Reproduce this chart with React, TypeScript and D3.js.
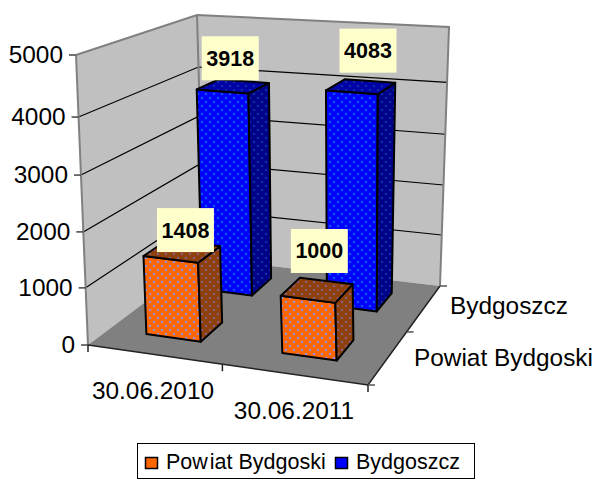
import React from "react";
import * as d3 from "d3";

const categories = ["30.06.2010", "30.06.2011"];
const seriesNames = ["Powiat Bydgoski", "Bydgoszcz"];
const powiatValues = [1408, 1000];
const bydgoszczValues = [3918, 4083];
const valueTicks = [0, 1000, 2000, 3000, 4000, 5000];

const W = 594, H = 482;
type P = [number, number];
// frame corners: [category u][depth v][height]
const corners = {
  flb: [88, 345] as P, flt: [76, 55] as P,
  blb: [204, 258] as P, blt: [197, 15] as P,
  brb: [440, 286] as P, brt: [449, 27] as P,
  frb: [368, 385] as P, frt: [358, 82] as P,
};
const hScale = d3.scaleLinear().domain(valueTicks).range([0, 0.197, 0.39, 0.586, 0.786, 1]);
const uBand = d3.scaleBand<string>().domain(categories).range([-0.014, 0.986]).paddingInner(0.6).paddingOuter(0.3);
const vBand = d3.scaleBand<string>().domain(seriesNames).range([0, 1.02]).paddingInner(0.6).paddingOuter(0.3);
const vWarp = d3.scalePow().exponent(0.9).domain([0, 1]).range([0, 1]);
const lerp = (a: P, b: P, t: number): P => [a[0] + (b[0] - a[0]) * t, a[1] + (b[1] - a[1]) * t];
function proj(u: number, vRaw: number, val: number): P {
  const h = hScale(val);
  const v = vWarp(vRaw);
  const { flb, flt, blb, blt, brb, brt, frb, frt } = corners;
  const fl = lerp(flb, flt, h), bl = lerp(blb, blt, h), br = lerp(brb, brt, h), fr = lerp(frb, frt, h);
  return lerp(lerp(fl, bl, v), lerp(fr, br, v), u);
}
const poly = (pts: P[]) => (d3.line()(pts) as string) + "Z";
const fonts = "'Liberation Sans', Arial, sans-serif";

const labelOffset: Record<string, P> = {
  "0-0": [3, -21], "0-1": [2, -39],
  "1-0": [-3, -28], "1-1": [7, -36],
};

function Bar({ ci, si, value }: { ci: number; si: number; value: number }) {
  const u0 = uBand(categories[ci])!, u1 = u0 + uBand.bandwidth();
  const v0 = vBand(seriesNames[si])!, v1 = v0 + vBand.bandwidth();
  const f = si === 0 ? ["url(#oF)", "url(#oD)", "url(#oD)"] : ["url(#bF)", "url(#bD)", "url(#bT)"];
  const st = { stroke: "#000", strokeWidth: 2, strokeLinejoin: "round" as const };
  return (
    <g>
      <path d={poly([proj(u0, v0, 0), proj(u1, v0, 0), proj(u1, v0, value), proj(u0, v0, value)])} fill={f[0]} {...st} />
      <path d={poly([proj(u1, v0, 0), proj(u1, v1, 0), proj(u1, v1, value), proj(u1, v0, value)])} fill={f[1]} {...st} />
      <path d={poly([proj(u0, v0, value), proj(u1, v0, value), proj(u1, v1, value), proj(u0, v1, value)])} fill={f[2]} {...st} />
    </g>
  );
}

function Label({ ci, si, value }: { ci: number; si: number; value: number }) {
  const u = uBand(categories[ci])! + uBand.bandwidth() / 2;
  const v = vBand(seriesNames[si])! + vBand.bandwidth() / 2;
  const [x, y] = proj(u, v, value);
  const o = labelOffset[`${si}-${ci}`];
  const cx = x + o[0], cy = y + o[1];
  return (
    <g>
      <rect x={cx - 28.5} y={cy - 22} width={57} height={44} fill="#ffffcc" />
      <text x={cx} y={cy + 7.5} textAnchor="middle" fontFamily={fonts} fontWeight="bold" fontSize={21.5} fill="#000">{value}</text>
    </g>
  );
}

function Pat({ id, bg, dot }: { id: string; bg: string; dot: string }) {
  return (
    <pattern id={id} width={8} height={8} patternUnits="userSpaceOnUse">
      <rect width={8} height={8} fill={bg} />
      <circle cx={2} cy={2} r={1.3} fill={dot} />
      <circle cx={6} cy={6} r={1.3} fill={dot} />
    </pattern>
  );
}

export default function App() {
  const { flb, flt, blb, blt, brb, brt, frb } = corners;
  const tickFont = { fontFamily: fonts, fontSize: 24.4, fill: "#000" };
  return (
    <svg width={W} height={H} style={{ position: "absolute", left: 0, top: 0, background: "#fff" }}>
      <defs>
        <Pat id="oF" bg="#ff6600" dot="#9a8ccf" />
        <Pat id="oD" bg="#8f3f08" dot="#84607a" />
        <Pat id="bF" bg="#0000ff" dot="#0a55f0" />
        <Pat id="bD" bg="#000088" dot="#0a2fa0" />
        <Pat id="bT" bg="#0000a8" dot="#0a2fa0" />
      </defs>
      {/* walls and floor */}
      <path d={poly([flb, flt, blt, blb])} fill="#c0c0c0" />
      <path d={poly([blb, blt, brt, brb])} fill="#c0c0c0" />
      <path d={poly([flb, blb, brb, frb])} fill="#808080" />
      {/* gridlines */}
      {valueTicks.slice(1, -1).map(t => (
        <path key={t} d={d3.line()([proj(0, 0, t), proj(0, 1, t), proj(1, 1, t)]) as string} fill="none" stroke="#000" strokeWidth={1.2} />
      ))}
      <path d={d3.line()([flt, blt, brt, brb]) as string} fill="none" stroke="#808080" strokeWidth={2} />
      <path d={d3.line()([blt, blb]) as string} fill="none" stroke="#808080" strokeWidth={2} />
      {/* axes */}
      <path d={d3.line()([flt, flb]) as string} fill="none" stroke="#808080" strokeWidth={2} />
      <path d={d3.line()([flb, frb, brb]) as string} fill="none" stroke="#222" strokeWidth={1.5} />
      {valueTicks.map(t => {
        const [x, y] = proj(0, 0, t);
        return (
          <g key={t}>
            <line x1={x - 7} x2={x} y1={y} y2={y} stroke="#444" strokeWidth={1.5} />
            <text x={x - 13} y={y + 8} textAnchor="end" {...tickFont}>{t}</text>
          </g>
        );
      })}
      {[0, 0.48, 1].map(u => {
        const [x, y] = proj(u, 0, 0);
        return <line key={u} x1={x} x2={x} y1={y} y2={y + 7} stroke="#222" strokeWidth={1.5} />;
      })}
      {[0, 0.5, 1].map(v => {
        const [x, y] = proj(1, v, 0);
        return <line key={v} x1={x} x2={x + 7} y1={y} y2={y} stroke="#555" strokeWidth={1.5} />;
      })}
      <text x={153} y={399} textAnchor="middle" {...tickFont}>{categories[0]}</text>
      <text x={294} y={419} textAnchor="middle" {...tickFont}>{categories[1]}</text>
      <text x={450} y={314} {...tickFont}>{seriesNames[1]}</text>
      <text x={414} y={366} {...tickFont}>{seriesNames[0]}</text>
      {/* bars back to front */}
      {bydgoszczValues.map((d, i) => <Bar key={i} ci={i} si={1} value={d} />)}
      {powiatValues.map((d, i) => <Bar key={i} ci={i} si={0} value={d} />)}
      {bydgoszczValues.map((d, i) => <Label key={i} ci={i} si={1} value={d} />)}
      {powiatValues.map((d, i) => <Label key={i} ci={i} si={0} value={d} />)}
      {/* legend */}
      <rect x={137.5} y={443.5} width={337} height={35} fill="#fff" stroke="#000" strokeWidth={1} />
      <rect x={145.5} y={457.5} width={12} height={11} fill="#ff6600" stroke="#000" strokeWidth={1.5} />
      <text x={166} y={469} fontFamily={fonts} fontSize={21.5}>{seriesNames[0].slice(0, 3)}<tspan dx={2}>{seriesNames[0].slice(3)}</tspan></text>
      <rect x={335.5} y={457.5} width={12} height={11} fill="#0000ff" stroke="#000" strokeWidth={1.5} />
      <text x={356} y={469} fontFamily={fonts} fontSize={21.5}>{seriesNames[1]}</text>
    </svg>
  );
}
